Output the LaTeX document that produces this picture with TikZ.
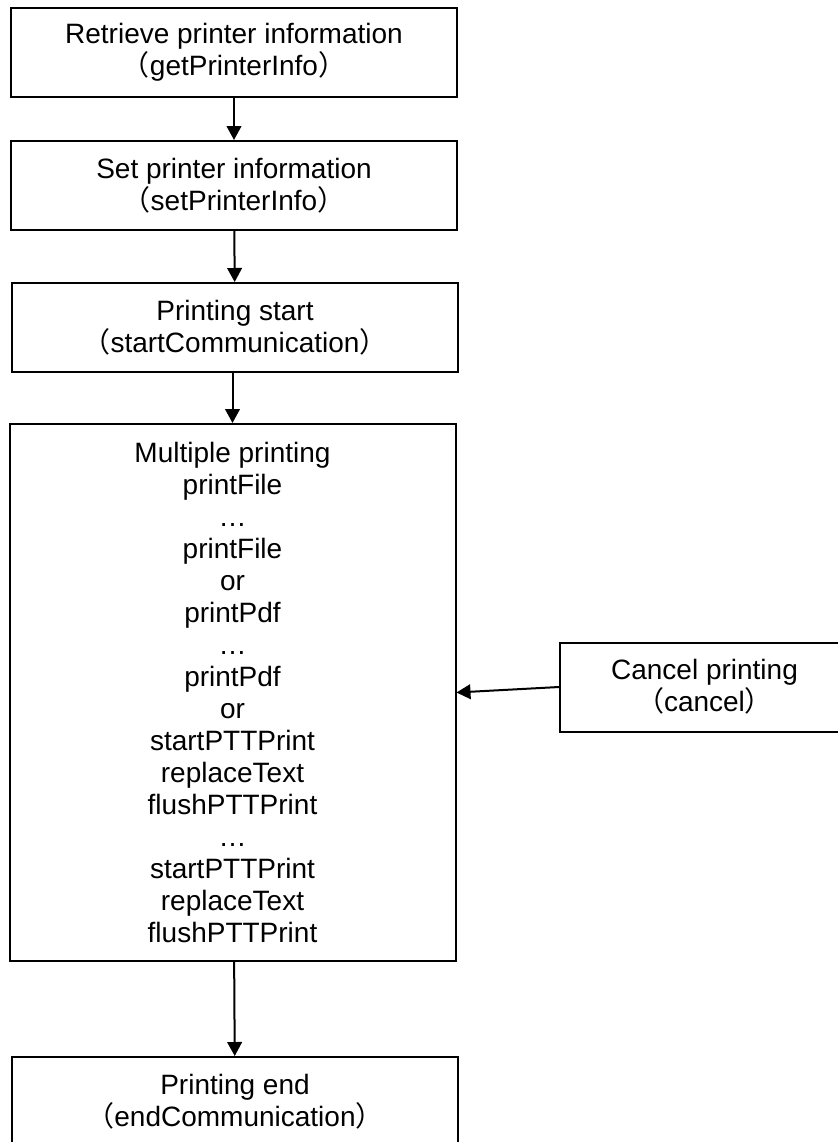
\documentclass[tikz,border=0pt]{standalone}
\usepackage{fontspec}
\setmainfont{Liberation Sans}
\newfontfamily\cjk{Noto Sans CJK SC}
\usetikzlibrary{arrows.meta}

\newcommand{\lp}{{\cjk （}}
\newcommand{\rp}{{\cjk ）}}

\begin{document}
\begin{tikzpicture}[
    x=0.75pt, y=-0.75pt,
    box/.style={rectangle, draw=black, line width=1.5pt, fill=white,
        minimum width=334.5pt, minimum height=66.75pt, inner sep=2pt,
        align=center, font=\fontsize{21}{24}\selectfont},
    flow/.style={line width=1.5pt, -{Triangle[length=10.5pt, width=11pt]}}
]
    \useasboundingbox (0,0) rectangle (838,1142);
    \node[box] (get) at (234,52) {Retrieve printer information\\ \lp getPrinterInfo\rp};
    \node[box] (set) at (234,185.5) {Set printer information\\ \lp setPrinterInfo\rp};
    \node[box] (start) at (235,327.5) {Printing start\\ \lp startCommunication\rp};
    \node[box, minimum height=402.75pt] (multi) at (232.5,692.5)
        {Multiple printing\\ printFile\\ \dots\\ printFile\\ or\\ printPdf\\ \dots\\ printPdf\\ or\\
         startPTTPrint\\ replaceText\\ flushPTTPrint\\ \dots\\ startPTTPrint\\ replaceText\\ flushPTTPrint};
    \node[box] (end) at (235,1101.5) {Printing end\\ \lp endCommunication\rp};
    \node[box, minimum width=216.75pt, anchor=west] (cancel) at (559,687) {Cancel printing\\ \lp cancel\rp};
    \draw[flow] (get) -- (set);
    \draw[flow] (set) -- (start);
    \draw[flow] (start.south -| multi) -- (multi);
    \draw[flow] (multi) -- (end);
    \draw[flow] (cancel.west) -- (multi.east);
\end{tikzpicture}
\end{document}
